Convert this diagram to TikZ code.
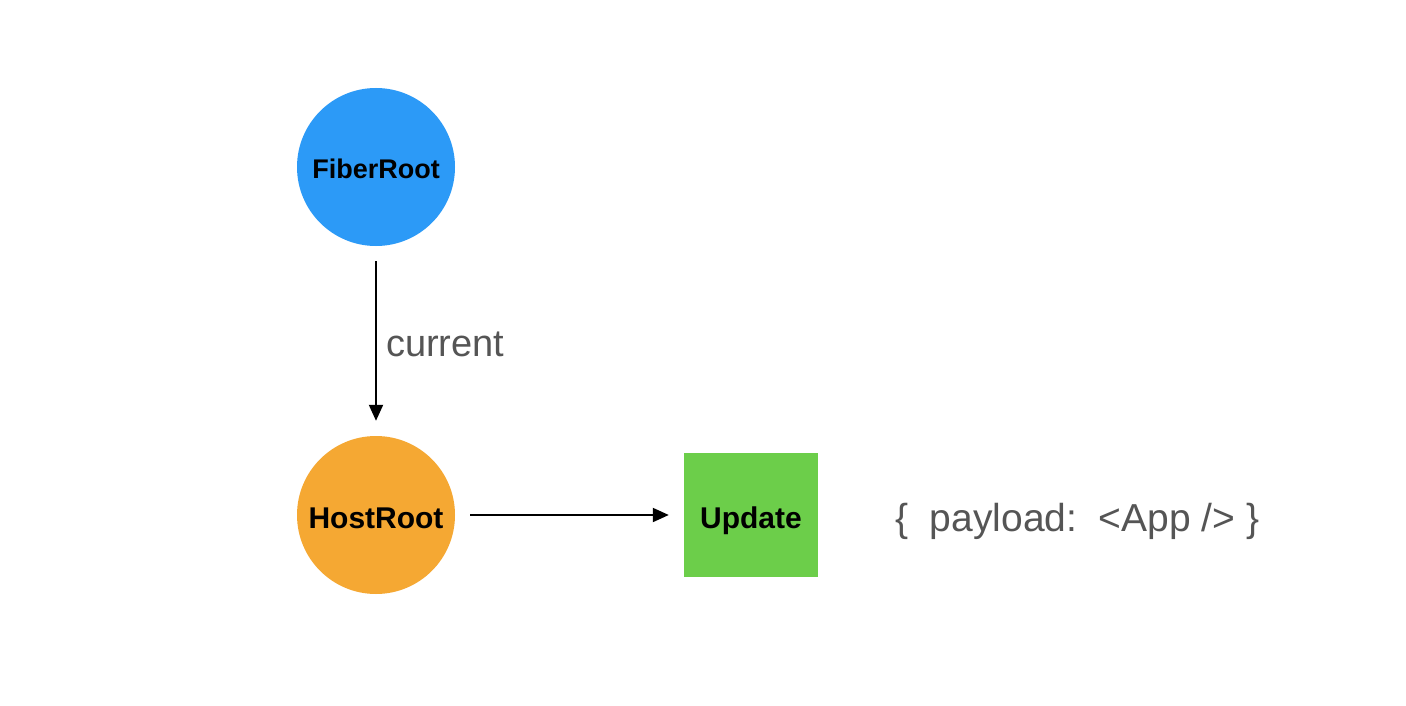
\documentclass[tikz,border=0pt]{standalone}
\usepackage{fontspec}
\setmainfont{Liberation Sans}
\usetikzlibrary{arrows.meta}
\definecolor{fiberblue}{HTML}{2C9AF7}
\definecolor{hostorange}{HTML}{F5A833}
\definecolor{updgreen}{HTML}{6CCE4A}
\definecolor{txtgray}{HTML}{555555}
\tikzset{
  rootnode/.style={circle, minimum size=158pt, inner sep=0pt, text=black, font=\bfseries},
  updbox/.style={rectangle, minimum width=134pt, minimum height=124pt, inner sep=0pt, fill=updgreen, text=black, font=\bfseries\fontsize{30}{36}\selectfont},
  conn/.style={line width=2pt, -{Triangle[length=16pt,width=14pt]}, shorten <=15pt, shorten >=15pt},
  lbl/.style={text=txtgray, inner sep=0pt, font=\fontsize{38}{45}\selectfont}
}
\begin{document}
\begin{tikzpicture}[x=1pt,y=-1pt]
\useasboundingbox[fill=white] (0,0) rectangle (1406,706);
\node[rootnode, fill=fiberblue, font=\bfseries\fontsize{27}{32}\selectfont] (fiber) at (376,167) {\raisebox{-2pt}[\height][\depth]{FiberRoot}};
\node[rootnode, fill=hostorange, font=\bfseries\fontsize{30}{36}\selectfont] (host) at (376,515) {\raisebox{-3pt}[\height][\depth]{HostRoot}};
\node[updbox] (upd) at (751,515) {\raisebox{-3pt}[\height][0pt]{Update}};
\draw[conn] (fiber) -- (host) node[midway, right=9pt, yshift=-3pt, lbl] (cur) {current};
\draw[conn] (host) -- (upd);
\node[lbl, anchor=west, font=\fontsize{39}{46}\selectfont] (payload) at (895,521) {\{\ \ payload:\ \ <App /> \}};
\end{tikzpicture}
\end{document}
